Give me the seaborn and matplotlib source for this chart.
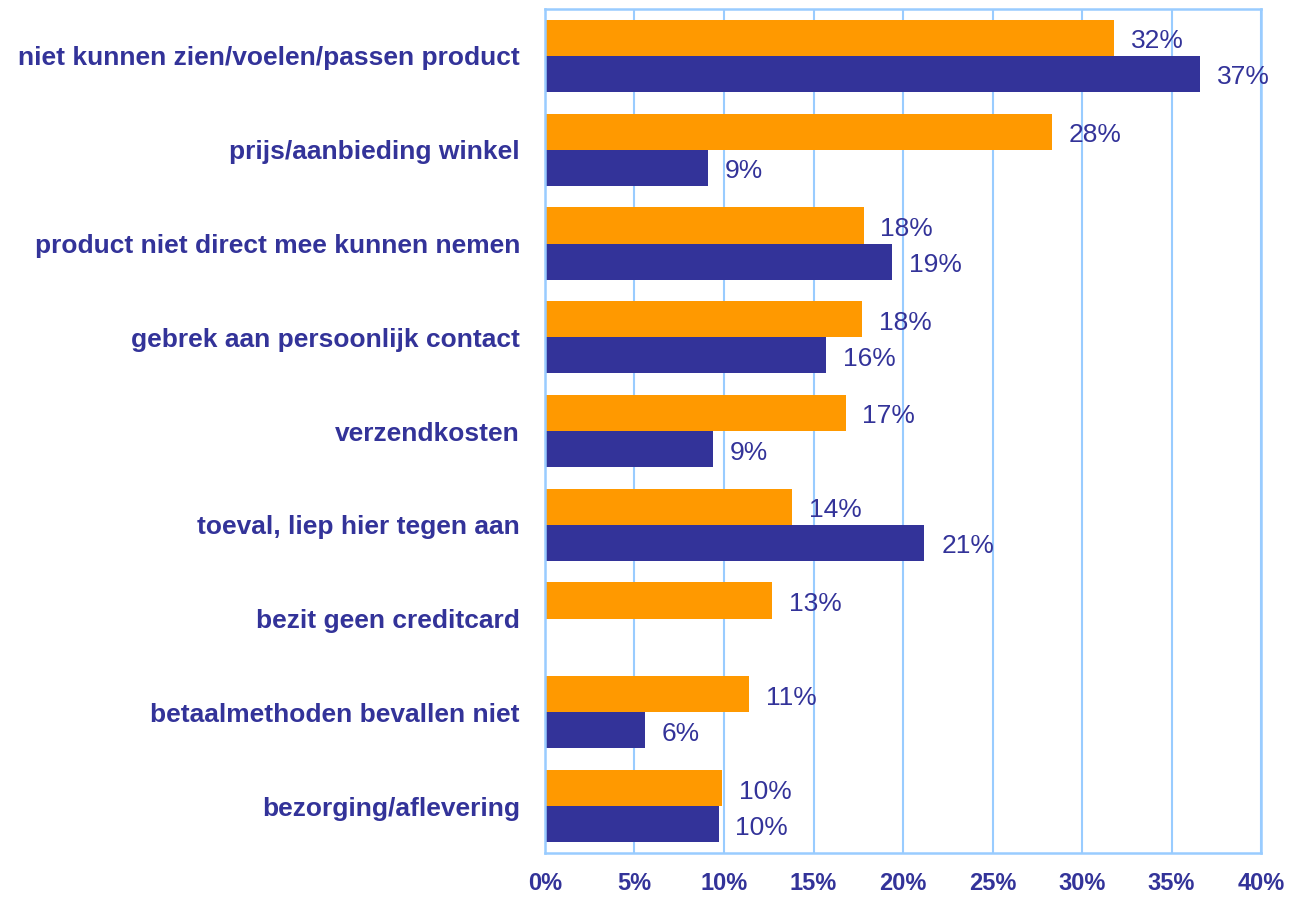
import pandas as pd
import matplotlib.pyplot as plt
import matplotlib.ticker as ticker
import seaborn as sns

# reasons (Dutch survey), values in percent
categories = ['niet kunnen zien/voelen/passen product',
              'prijs/aanbieding winkel',
              'product niet direct mee kunnen nemen',
              'gebrek aan persoonlijk contact',
              'verzendkosten',
              'toeval, liep hier tegen aan',
              'bezit geen creditcard',
              'betaalmethoden bevallen niet',
              'bezorging/aflevering']
orange_vals = [31.8, 28.3, 17.8, 17.7, 16.8, 13.8, 12.7, 11.4, 9.9]
blue_vals = [36.6, 9.1, 19.4, 15.7, 9.4, 21.2, 0, 5.6, 9.7]
series_names = ['A', 'B']
colors = ['#FF9900', '#333399']
xticks = [0, 5, 10, 15, 20, 25, 30, 35, 40]

df = pd.DataFrame({
    'reden': categories * 2,
    'pct': orange_vals + blue_vals,
    'groep': [series_names[0]] * len(categories) + [series_names[1]] * len(categories),
})

sns.set_theme(style='white')
plt.rcParams['font.family'] = ['Liberation Sans', 'DejaVu Sans']

navy = '#333399'
grid_blue = '#99CCFF'

fig, ax = plt.subplots(figsize=(12.89, 9.07), dpi=100)
fig.subplots_adjust(left=0.4228, right=0.9783, top=0.990, bottom=0.0595)

sns.barplot(data=df, y='reden', x='pct', hue='groep', orient='h',
            palette=colors, width=0.77, linewidth=0, saturation=1,
            legend=False, ax=ax)

for cont in ax.containers:
    labels = [f'{v:.0f}%' if v > 0 else '' for v in cont.datavalues]
    anns = ax.bar_label(cont, labels=labels, padding=12, fontsize=19, color=navy)
    for a in anns:
        a.xyann = (12, -2.5)  # labels sit a touch below bar centre

ax.set_xlim(0, 40)
ax.set_ylim(len(categories) - 0.5, -0.5)
ax.set_xticks(xticks)
ax.xaxis.set_major_formatter(ticker.FuncFormatter(lambda v, p: f'{v:.0f}%'))
ax.set_xlabel('')
ax.set_ylabel('')

ax.grid(axis='x', color=grid_blue, linewidth=1.5)
ax.grid(axis='y', visible=False)
ax.set_axisbelow(True)
for sp in ax.spines.values():
    sp.set_visible(True)
    sp.set_color(grid_blue)
    sp.set_linewidth(1.8)

ax.tick_params(axis='x', length=0, pad=14, labelcolor=navy)
ax.tick_params(axis='y', length=0, pad=18, labelsize=19, labelcolor=navy)
for lab in ax.get_yticklabels():
    lab.set_fontweight('bold')
for lab in ax.get_xticklabels():
    lab.set_fontweight('bold')
    lab.set_fontsize(17)
    lab.set_family(['Liberation Sans Narrow', 'Liberation Sans', 'DejaVu Sans'])

plt.savefig('out.png', dpi=100)
